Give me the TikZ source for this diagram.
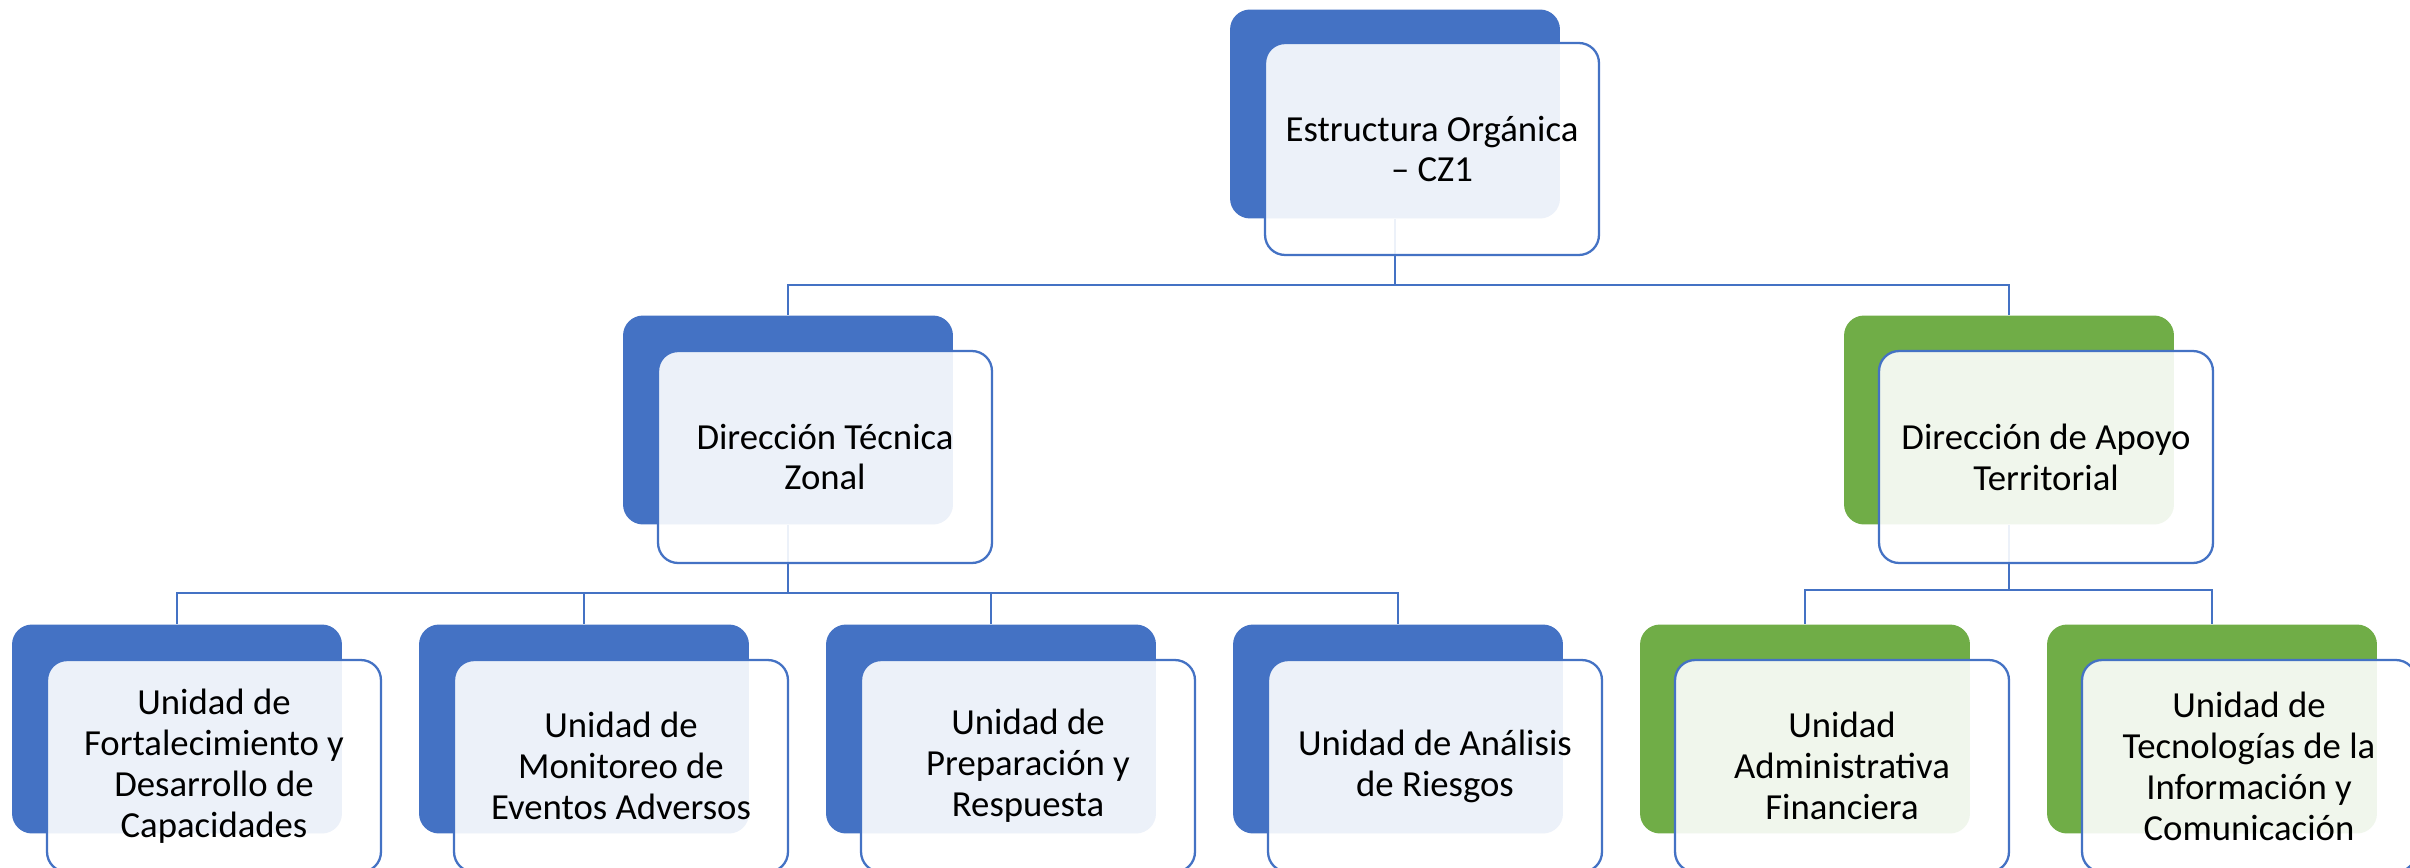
\documentclass[tikz,border=0pt]{standalone}
\usepackage{fontspec}
\setmainfont{Carlito}
\usetikzlibrary{positioning}
\definecolor{orgblue}{HTML}{4472C4}
\definecolor{orggreen}{HTML}{70AD47}
\tikzset{back/.style={rectangle, rounded corners=0.4cm, minimum width=6.6cm, minimum height=4.18cm},
  blueback/.style={back, fill=orgblue},
  greenback/.style={back, fill=orggreen},
  front/.style={rectangle, rounded corners=0.4cm, minimum width=6.68cm, minimum height=4.24cm,
    draw=orgblue, line width=1.3pt, fill=white, fill opacity=0.9, text opacity=1, align=center,
    font=\fontsize{20.9pt}{23.3pt}\selectfont},
  link/.style={draw=orgblue, line width=1.1pt}}

\begin{document}
\begin{tikzpicture}[x=0.02cm,y=-0.02cm]
  \useasboundingbox (0,0) rectangle (2410,868);
  % coloured back plates
  \node [blueback] (cz1b) at (1395,114) {};
  \node [blueback] (dtzb) at (788,420) {};
  \node [greenback] (datb) at (2009,420) {};
  \node [blueback] (ufdb) at (177,729) {};
  \node [blueback] (umeb) at (584,729) {};
  \node [blueback] (uprb) at (991,729) {};
  \node [blueback] (uarb) at (1398,729) {};
  \node [greenback] (uafb) at (1805,729) {};
  \node [greenback] (uticb) at (2212,729) {};
  % lines
  \draw [link] (cz1b.south) -- ++(0,66) -| (dtzb.north);
  \draw [link] (cz1b.south) -- ++(0,66) -| (datb.north);
  \draw [link] (dtzb.south) -- ++(0,68) -| (ufdb.north);
  \draw [link] (dtzb.south) -- ++(0,68) -| (umeb.north);
  \draw [link] (dtzb.south) -- ++(0,68) -| (uprb.north);
  \draw [link] (dtzb.south) -- ++(0,68) -| (uarb.north);
  \draw [link] (datb.south) -- ++(0,65) -| (uafb.north);
  \draw [link] (datb.south) -- ++(0,65) -| (uticb.north);
  % text boxes
  \node [front] (cz1) at ([shift={(37,35)}]cz1b) {Estructura Orgánica\\– CZ1};
  \node [front] (dtz) at ([shift={(37,37)}]dtzb) {Dirección Técnica\\Zonal};
  \node [front] (dat) at ([shift={(37,37)}]datb) {Dirección de Apoyo\\Territorial};
  \node [front] (ufd) at ([shift={(37,37)}]ufdb) {Unidad de\\Fortalecimiento y\\Desarrollo de\\Capacidades};
  \node [front] (ume) at ([shift={(37,37)}]umeb) {Unidad de\\Monitoreo de\\Eventos Adversos};
  \node [front] (upr) at ([shift={(37,37)}]uprb) {Unidad de\\Preparación y\\Respuesta};
  \node [front] (uar) at ([shift={(37,37)}]uarb) {Unidad de Análisis\\de Riesgos};
  \node [front] (uaf) at ([shift={(37,37)}]uafb) {Unidad\\Administrativa\\Financiera};
  \node [front] (utic) at ([shift={(37,37)}]uticb) {Unidad de\\Tecnologías de la\\Información y\\Comunicación};
\end{tikzpicture}
\end{document}
